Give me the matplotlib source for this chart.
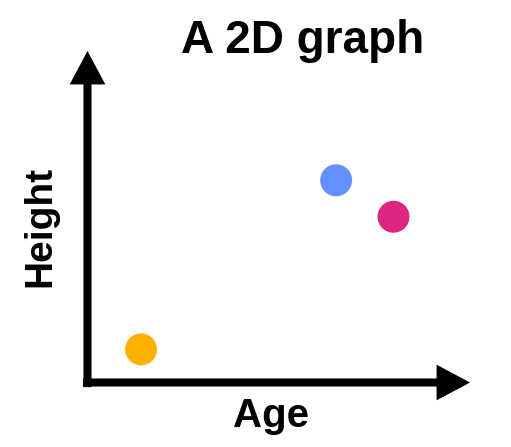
import matplotlib
matplotlib.use("Agg")
import matplotlib.pyplot as plt

# data
ages = [1.4, 6.5, 8.0]
heights = [1.0, 6.1, 5.0]
colors = ["#FFB000", "#648FFF", "#DC267F"]

plt.rcParams["font.family"] = ["Liberation Sans", "DejaVu Sans"]

fig = plt.figure(figsize=(5.11, 4.47), dpi=100)
ax = fig.add_axes([87.5 / 511, 64.5 / 447, 382.5 / 511, 331.5 / 447])
ax.set_xlim(0, 10)
ax.set_ylim(0, 10)
ax.axis("off")

ax.scatter(ages, heights, s=530, c=colors, edgecolors="none", zorder=3)

# axis arrows
arrow = dict(arrowstyle="-|>,head_length=0.75,head_width=0.4", lw=5.8,
             color="black", mutation_scale=20, shrinkA=0, shrinkB=0,
             joinstyle="miter", capstyle="butt")
ax.annotate("", xy=(1.0, 0), xytext=(-0.012, 0), xycoords="axes fraction",
            arrowprops=arrow)
ax.annotate("", xy=(0, 1.0), xytext=(0, -0.014), xycoords="axes fraction",
            arrowprops=arrow)

fig.text(302.5 / 511, 1 - 53 / 447, "A 2D graph", fontsize=33, fontweight="bold",
         ha="center", va="baseline")
fig.text(271 / 511, 1 - 427 / 447, "Age", fontsize=29, fontweight="bold",
         ha="center", va="baseline")
fig.text(40 / 511, 1 - 226 / 447, "Height", fontsize=28, fontweight="bold",
         ha="center", va="center", rotation=90)

fig.savefig("out.png", dpi=100)
